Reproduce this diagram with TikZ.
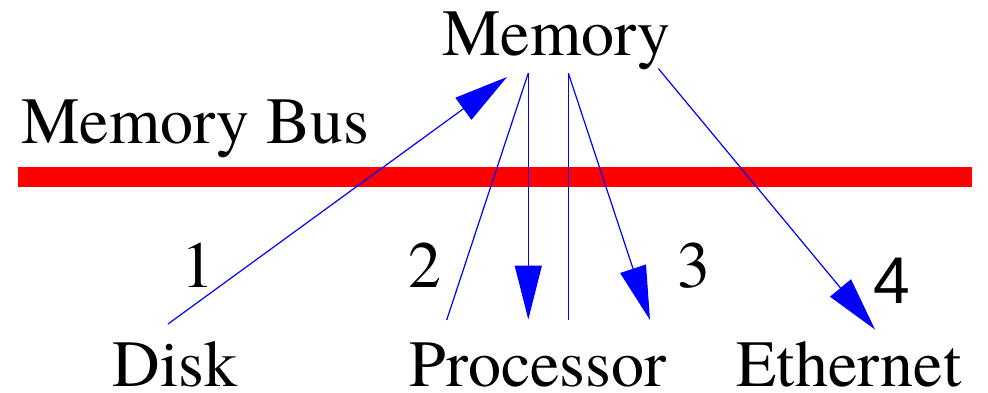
\documentclass[tikz,border=0pt]{standalone}
\usepackage{fontspec}
\IfFontExistsTF{texgyretermes-regular.otf}
  {\newfontfamily\txtserif{texgyretermes-regular.otf}}
  {\newfontfamily\txtserif{Latin Modern Roman}}
\newfontfamily\numsans{Liberation Sans}
\usetikzlibrary{arrows.meta}
\begin{document}
\begin{tikzpicture}[x=1pt,y=-1pt,
  lbl/.style={anchor=base,inner sep=0pt,font=\txtserif\fontsize{66}{79}\selectfont},
  conn/.style={blue,line width=1.2pt},
  arr/.style={conn,-{Triangle[length=54pt,width=27pt]}}]
\useasboundingbox (0,0) rectangle (988,392);
% bus
\coordinate (busL) at (18,177);
\coordinate (busR) at (972,177);
\draw[red,line width=20pt] (busL) -- (busR);
% texts
\node[lbl] (mem) at (556.5,55) {Memory};
\node[lbl] (bus) at (195,143) {Memory Bus};
\node[lbl] (disk) at (175,386) {Disk};
\node[lbl] (proc) at (538,386) {Processor};
\node[lbl] (eth) at (849,386) {Ethernet};
\node[lbl] (n1) at (197.5,287) {1};
\node[lbl] (n2) at (425,287) {2};
\node[lbl] (n3) at (693.5,287) {3};
\node[lbl,font=\numsans\fontsize{66}{79}\selectfont] (n4) at (891.5,303) {4};
% connector end points
\coordinate (d0) at (168,324);
\coordinate (d1) at (507,77);
\coordinate (a) at (528.3,73);
\coordinate (b) at (568.3,73);
\coordinate (c) at (658.3,68.5);
\coordinate (p1) at (446.7,320);
\coordinate (p2) at (528.3,319.5);
\coordinate (p3) at (568.3,320);
\coordinate (p4) at (650,320);
\coordinate (e1) at (875,329.5);
% connectors
\draw[arr] (d0) -- (d1);
\draw[conn] (p1) -- (a);
\draw[arr] (a) -- (p2);
\draw[conn] (b) -- (p3);
\draw[arr] (b) -- (p4);
\draw[arr] (c) -- (e1);
\end{tikzpicture}
\end{document}
